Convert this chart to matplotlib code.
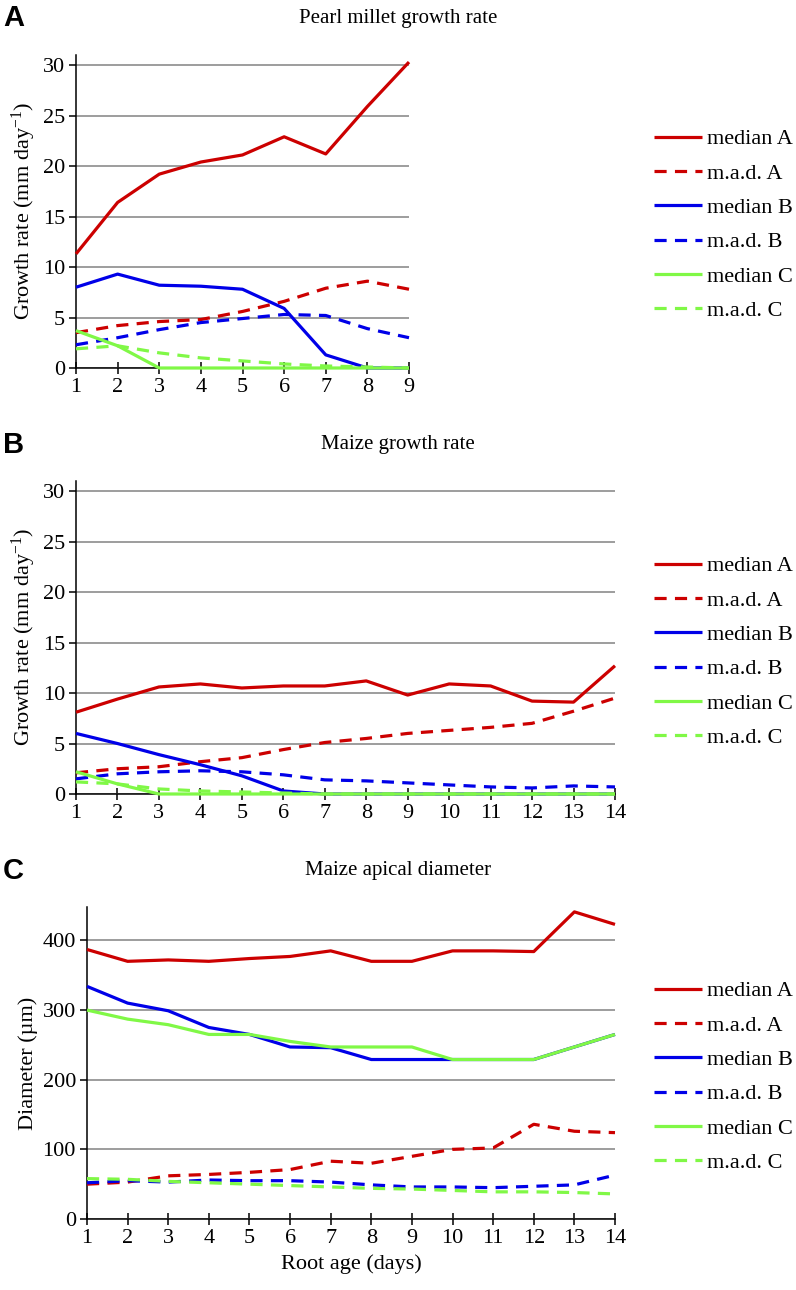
import matplotlib
matplotlib.use("Agg")
import matplotlib.pyplot as plt

# ── Data ─────────────────────────────────────────────────────────────
days_pm = [1, 2, 3, 4, 5, 6, 7, 8, 9]
pm_median_a = [11.3, 16.4, 19.2, 20.4, 21.1, 22.9, 21.2, 25.9, 30.3]
pm_mad_a = [3.5, 4.2, 4.6, 4.8, 5.6, 6.6, 7.9, 8.6, 7.8]
pm_median_b = [8.0, 9.3, 8.2, 8.1, 7.8, 5.9, 1.3, 0.0, 0.0]
pm_mad_b = [2.3, 3.0, 3.8, 4.5, 4.9, 5.3, 5.2, 3.9, 3.0]
pm_median_c = [3.7, 2.2, 0.0, 0.0, 0.0, 0.0, 0.0, 0.0, 0.0]
pm_mad_c = [1.9, 2.2, 1.5, 1.0, 0.7, 0.4, 0.2, 0.1, 0.0]

days_mz = [1, 2, 3, 4, 5, 6, 7, 8, 9, 10, 11, 12, 13, 14]
mz_median_a = [8.1, 9.4, 10.6, 10.9, 10.5, 10.7, 10.7, 11.2, 9.8, 10.9, 10.7, 9.2, 9.1, 12.7]
mz_mad_a = [2.1, 2.5, 2.7, 3.2, 3.6, 4.4, 5.1, 5.5, 6.0, 6.3, 6.6, 7.0, 8.2, 9.5]
mz_median_b = [6.0, 5.0, 3.9, 2.9, 1.8, 0.3, 0.0, 0.0, 0.0, 0.0, 0.0, 0.0, 0.0, 0.0]
mz_mad_b = [1.5, 2.0, 2.2, 2.3, 2.2, 1.9, 1.4, 1.3, 1.1, 0.9, 0.7, 0.6, 0.8, 0.7]
mz_median_c = [2.2, 1.0, 0.0, 0.0, 0.0, 0.0, 0.0, 0.0, 0.0, 0.0, 0.0, 0.0, 0.0, 0.0]
mz_mad_c = [1.2, 1.0, 0.5, 0.3, 0.2, 0.1, 0.0, 0.0, 0.0, 0.0, 0.0, 0.0, 0.0, 0.0]

dia_median_a = [387, 370, 372, 370, 374, 377, 385, 370, 370, 385, 385, 384, 441, 423]
dia_mad_a = [50, 53, 62, 64, 67, 71, 83, 80, 90, 100, 102, 136, 126, 124]
dia_median_b = [334, 310, 299, 275, 265, 247, 246, 229, 229, 229, 229, 229, 247, 265]
dia_mad_b = [52, 55, 53, 56, 55, 55, 53, 49, 46, 46, 45, 47, 49, 63]
dia_median_c = [300, 287, 279, 265, 265, 255, 247, 247, 247, 229, 229, 229, 247, 265]
dia_mad_c = [58, 57, 54, 52, 50, 48, 46, 44, 43, 41, 39, 39, 38, 36]

LABELS = ["median A", "m.a.d. A", "median B", "m.a.d. B", "median C", "m.a.d. C"]
COLORS = ["#cc0000", "#cc0000", "#0000e8", "#0000e8", "#80f846", "#80f846"]
STYLES = ["-", "--", "-", "--", "-", "--"]

# ── Style ────────────────────────────────────────────────────────────
W, H = 796, 1290
FS = 16
plt.rcParams.update({
    "font.family": "serif",
    "font.serif": ["Liberation Serif", "DejaVu Serif"],
    "mathtext.fontset": "custom",
    "mathtext.rm": "Liberation Serif",
    "mathtext.it": "Liberation Serif:italic",
    "axes.linewidth": 1.1,
    "xtick.major.width": 1.1,
    "ytick.major.width": 1.1,
    "xtick.major.size": 5,
    "ytick.major.size": 5,
})

fig = plt.figure(figsize=(W / 100, H / 100), dpi=100)


def px_axes(left, right, top, bottom):
    return fig.add_axes([left / W, 1 - bottom / H, (right - left) / W, (bottom - top) / H])


def draw_panel(ax, x, series, ylim, yticks, ylabel, legend_center):
    lines = []
    for y, c, ls, lab in zip(series, COLORS, STYLES, LABELS):
        ln, = ax.plot(x, y, color=c, linestyle=ls, linewidth=2.3, label=lab,
                      dashes=(3.8, 2.6) if ls == "--" else (None, None),
                      solid_capstyle="butt", clip_on=False, zorder=3)
        lines.append(ln)
    ax.set_xlim(x[0], x[-1])
    ax.set_ylim(*ylim)
    ax.set_xticks(x)
    ax.set_yticks(yticks)
    ax.tick_params(labelsize=FS, pad=3)
    ax.tick_params(axis="x", direction="inout", length=8)
    ax.yaxis.grid(True, color="#8c8c8c", linewidth=1.2)
    ax.set_axisbelow(True)
    for s in ("top", "right"):
        ax.spines[s].set_visible(False)
    ax.set_ylabel(ylabel, fontsize=FS, labelpad=3)
    fig.legend(handles=lines, loc="center left", frameon=False, fontsize=FS,
               bbox_to_anchor=(654 / W, 1 - legend_center / H),
               handlelength=2.15, handletextpad=0.25, labelspacing=0.62,
               borderaxespad=0, borderpad=0)


gr_label = "Growth rate (mm day$^{-1}$)"

ax_a = px_axes(76, 409, 55, 368)
draw_panel(ax_a, days_pm,
           [pm_median_a, pm_mad_a, pm_median_b, pm_mad_b, pm_median_c, pm_mad_c],
           (0, 31), range(0, 31, 5), gr_label, 225)

ax_b = px_axes(76, 615, 481, 794)
draw_panel(ax_b, days_mz,
           [mz_median_a, mz_mad_a, mz_median_b, mz_mad_b, mz_median_c, mz_mad_c],
           (0, 31), range(0, 31, 5), gr_label, 652)

ax_c = px_axes(87, 615, 907, 1219)
draw_panel(ax_c, days_mz,
           [dia_median_a, dia_mad_a, dia_median_b, dia_mad_b, dia_median_c, dia_mad_c],
           (0, 448), range(0, 401, 100), "Diameter (µm)", 1077)
ax_c.set_xlabel("Root age (days)", fontsize=FS, labelpad=5)

# ── Panel letters and titles ─────────────────────────────────────────
for letter, title, y in [("A", "Pearl millet growth rate", 18),
                         ("B", "Maize growth rate", 445),
                         ("C", "Maize apical diameter", 871)]:
    fig.text(3 / W, 1 - y / H, letter, fontsize=21, fontweight="bold",
             family="Liberation Sans", va="center", ha="left")
    fig.text(0.5, 1 - y / H, title, fontsize=15, va="center", ha="center")

fig.savefig("out.png", dpi=100)
